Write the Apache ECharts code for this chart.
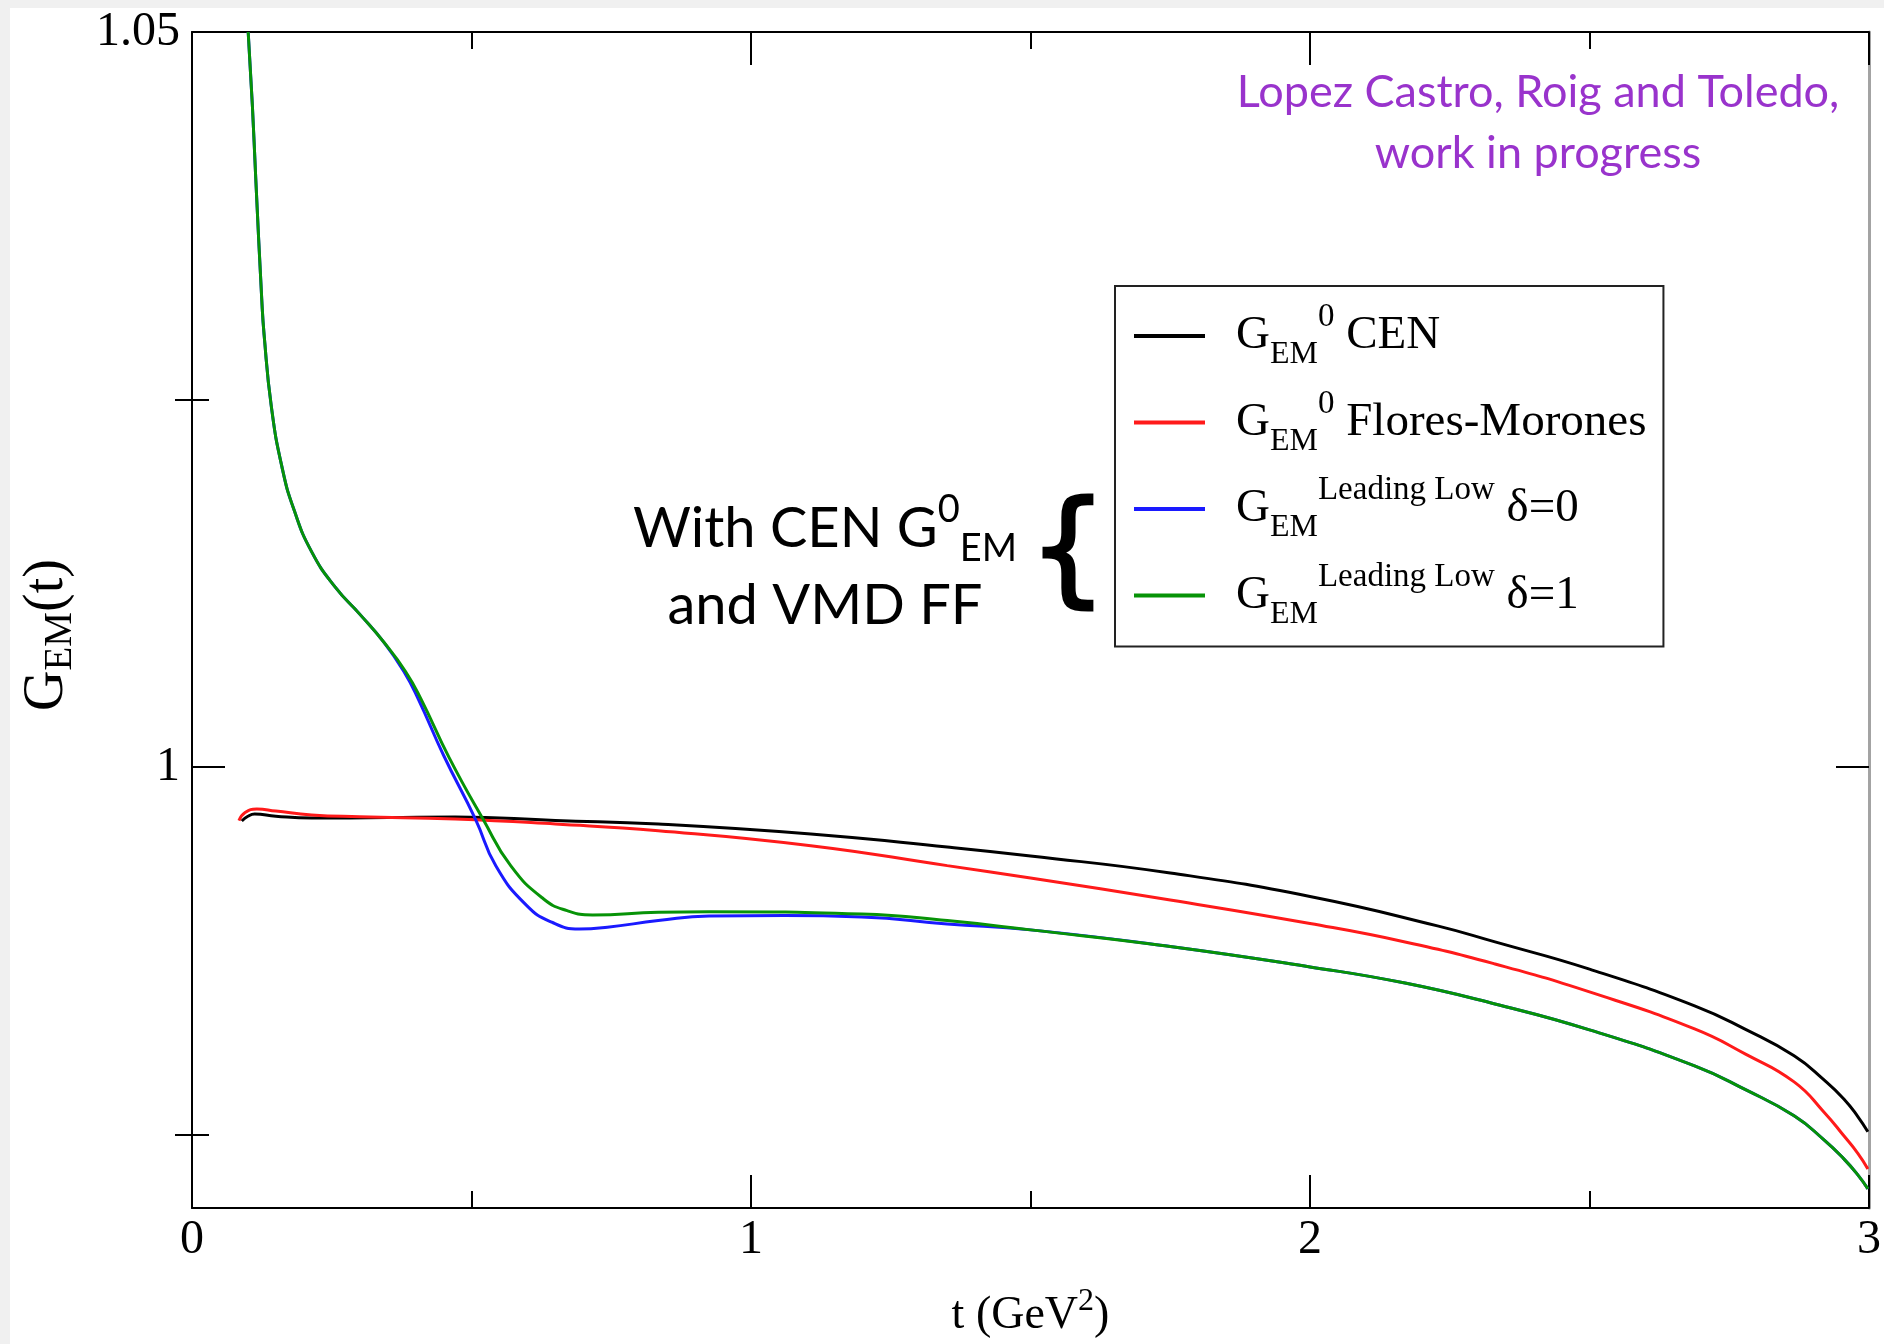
<!DOCTYPE html>
<html><head><meta charset="utf-8">
<script src="https://cdn.jsdelivr.net/npm/echarts@6/dist/echarts.min.js"></script>
<style>
html,body{margin:0;padding:0;background:#f0f0f0;width:1884px;height:1344px;overflow:hidden;}
#chart{position:absolute;left:10px;top:8px;width:1874px;height:1336px;background:#fff;}
</style></head><body><div id="chart"></div>
<script>
// ---- data (t in GeV^2, G_EM(t)) ----
const seriesNames = ['CEN', 'FM', 'LL0', 'LL1'];
const tBlack = [0.089,0.100,0.112,0.150,0.214,0.350,0.471,0.650,0.834,1.107,1.351,1.500,1.750,2.000,2.228,2.331,2.500,2.688,2.780,2.866,2.920,2.955,2.980,2.998];
const gBlack = [0.99633,0.99665,0.99680,0.99665,0.99653,0.99656,0.99660,0.99636,0.99612,0.99544,0.99456,0.99395,0.99279,0.99119,0.98919,0.98810,0.98625,0.98375,0.98213,0.98035,0.97870,0.97742,0.97622,0.97518];
const tRed = [0.084,0.095,0.116,0.150,0.214,0.300,0.471,0.650,0.834,1.107,1.351,1.500,1.750,2.000,2.170,2.331,2.500,2.688,2.780,2.866,2.920,2.955,2.980,2.998];
const gRed = [0.99635,0.99690,0.99714,0.99700,0.99674,0.99662,0.99646,0.99612,0.99567,0.99465,0.99329,0.99245,0.99095,0.98935,0.98810,0.98660,0.98470,0.98218,0.98045,0.97858,0.97650,0.97491,0.97372,0.97266];
const tBlue = [0.1005,0.1080,0.1141,0.1248,0.1290,0.1420,0.1610,0.1825,0.2146,0.2570,0.3000,0.3430,0.3790,0.4050,0.4500,0.5070,0.5437,0.5980,0.6435,0.6930,0.7430,0.8340,0.9250,1.0600,1.1980,1.3510,1.5000,1.7500,2.0000,2.1700,2.3310,2.5000,2.6880,2.7800,2.8660,2.9200,2.9550,2.9800,2.9980];
const gBlue = [1.0500,1.0450,1.0400,1.0318,1.0294,1.0245,1.0204,1.0175,1.0146,1.0122,1.0104,1.0085,1.0065,1.0046,1.0008,0.99646,0.99327,0.99060,0.98944,0.98898,0.98910,0.98955,0.98987,0.98989,0.98980,0.98932,0.98892,0.98779,0.98640,0.98530,0.98388,0.98212,0.97967,0.97803,0.97627,0.97462,0.97334,0.97225,0.97130];
const tGreen = [0.1005,0.1080,0.1141,0.1248,0.1290,0.1420,0.1610,0.1825,0.2146,0.2570,0.3000,0.3430,0.3820,0.4100,0.4600,0.5205,0.5704,0.6290,0.6710,0.7166,0.8340,0.9250,1.1980,1.3510,1.5000,1.7500,2.0000,2.1700,2.3310,2.5000,2.6880,2.7800,2.8660,2.9200,2.9550,2.9800,2.9980];
const gGreen = [1.0500,1.0450,1.0400,1.0318,1.0294,1.0245,1.0204,1.0175,1.0146,1.0122,1.0104,1.0085,1.0065,1.0046,1.00064,0.99646,0.99327,0.99102,0.99023,0.98994,0.99012,0.99016,0.99000,0.98955,0.98892,0.98779,0.98640,0.98530,0.98388,0.98212,0.97967,0.97803,0.97627,0.97462,0.97334,0.97225,0.97130];
const xMin = 0, xMax = 3, xInterval = 1;
const yMin = 0.97, yMax = 1.05;
const yMajorTicks = [1, 1.05];
const yMinorTicks = [0.975, 1.025];
const yRightMajor = [1];
const legendLabels = {
  CEN: '{g|G}{sub|EM}{sup|0}{m| CEN}',
  FM: '{g|G}{sub|EM}{sup|0}{m| Flores-Morones}',
  LL0: '{g|G}{sub|EM}{sup|Leading Low}{m| δ=0}',
  LL1: '{g|G}{sub|EM}{sup|Leading Low}{m| δ=1}'
};
const colors = ['#000000', '#ff1a1a', '#1a1aff', '#079307'];

function pairs(t, g) { return t.map((v, i) => [v, g[i]]); }

const serif = 'Liberation Serif';
const chart = echarts.init(document.getElementById('chart'), null, {renderer: 'canvas'});
const black2 = {color: '#000', width: 2};

function xAx(pos, showLabel) {
  const a = {
    type: 'value', position: pos, min: xMin, max: xMax, interval: xInterval,
    axisLine: {show: true, onZero: false, lineStyle: black2},
    axisTick: {show: true, inside: true, length: 33, lineStyle: black2},
    minorTick: {show: true, splitNumber: 2, length: 17, lineStyle: black2},
    axisLabel: {show: showLabel, margin: 8, fontSize: 48, fontFamily: serif, color: '#000'},
    splitLine: {show: false}, minorSplitLine: {show: false}
  };
  if (showLabel) {
    a.name = '{m|t (GeV}{s|2}{m|)}';
    a.nameLocation = 'middle';
    a.nameGap = 78;
    a.nameTextStyle = {
      fontFamily: serif, fontSize: 46, color: '#000',
      rich: {
        m: {fontFamily: serif, fontSize: 46, color: '#000', lineHeight: 60},
        s: {fontFamily: serif, fontSize: 32, color: '#000', lineHeight: 34, verticalAlign: 'top'}
      }
    };
  }
  return a;
}
function yAx(pos, ticks, len, line, labels) {
  return {
    type: 'value', position: pos, offset: 0, min: yMin, max: yMax,
    axisLine: line ? {show: true, onZero: false, lineStyle: line} : {show: false},
    axisTick: {show: true, inside: true, length: len, customValues: ticks, lineStyle: black2},
    axisLabel: labels ? {show: true, customValues: labels, margin: 12, fontSize: 48, fontFamily: serif, color: '#000'} : {show: false},
    splitLine: {show: false}
  };
}
const yLeft = yAx('left', yMajorTicks, 33, black2, yMajorTicks);
yLeft.name = '{g|G}{s|EM}{g|(t)}';
yLeft.nameLocation = 'middle';
yLeft.nameRotate = 90;
yLeft.nameGap = 112;
yLeft.nameTextStyle = {
  fontFamily: serif, fontSize: 56, color: '#000', padding: [0, 30, 0, 0],
  rich: {
    g: {fontFamily: serif, fontSize: 56, color: '#000', lineHeight: 66},
    s: {fontFamily: serif, fontSize: 39, color: '#000', lineHeight: 30, verticalAlign: 'bottom'}
  }
};

const legendRich = {
  g: {fontFamily: serif, fontSize: 47, color: '#000', lineHeight: 70, padding: [0, 0, 0, 26]},
  m: {fontFamily: serif, fontSize: 47, color: '#000', lineHeight: 70},
  sub: {fontFamily: serif, fontSize: 32, color: '#000', lineHeight: 24, verticalAlign: 'bottom'},
  sup: {fontFamily: serif, fontSize: 33, color: '#000', lineHeight: 35, verticalAlign: 'top'}
};

const dataSets = [pairs(tBlack, gBlack), pairs(tRed, gRed), pairs(tBlue, gBlue), pairs(tGreen, gGreen)];
const series = seriesNames.map((n, i) => ({
  name: n, type: 'line', xAxisIndex: 0, yAxisIndex: 0,
  data: dataSets[i], showSymbol: false, symbol: 'none',
  smooth: 0.5, clip: true,
  color: colors[i], itemStyle: {color: colors[i]},
  lineStyle: {color: colors[i], width: 3},
  z: 2 + i
}));

chart.setOption({
  animation: false,
  backgroundColor: '#ffffff',
  grid: {left: 182, top: 24, width: 1682, height: 1176, containLabel: false},
  xAxis: [xAx('bottom', true), xAx('top', false)],
  yAxis: [
    yLeft,
    yAx('left', yMinorTicks, 17, null, null),
    yAx('right', yRightMajor, 33, {color: '#a3a3a3', width: 3}, null),
    yAx('right', yMinorTicks, 17, null, null)
  ],
  legend: {
    orient: 'vertical', left: 1105, top: 278,
    padding: [15, 17, 16, 19], itemGap: 16.5,
    itemWidth: 71, itemHeight: 4, icon: 'rect', selectedMode: false,
    borderColor: '#222', borderWidth: 2, backgroundColor: '#fff',
    data: seriesNames,
    formatter: (name) => legendLabels[name],
    textStyle: {fontFamily: serif, fontSize: 47, color: '#000', rich: legendRich}
  },
  graphic: [
    {
      type: 'text', x: 1528, y: 114.5, z: 100,
      style: {
        text: 'Lopez Castro, Roig and Toledo,\nwork in progress',
        fill: '#9933cc', fontFamily: 'Lato', fontSize: 45, lineHeight: 61,
        align: 'center', verticalAlign: 'middle'
      }
    },
    {
      type: 'text', x: 815, y: 559.5, z: 100,
      style: {
        text: '{t|With CEN G}{sp|0}{sb|EM}\n{t|and VMD FF}',
        fill: '#000', fontFamily: 'Lato', fontSize: 56,
        align: 'center', verticalAlign: 'middle',
        rich: {
          t: {fontFamily: 'Lato', fontSize: 56, lineHeight: 77, fill: '#000'},
          sp: {fontFamily: 'Lato', fontSize: 38, lineHeight: 63, verticalAlign: 'top', fill: '#000'},
          sb: {fontFamily: 'Lato', fontSize: 38, lineHeight: 50, verticalAlign: 'bottom', fill: '#000'}
        }
      }
    },
    {
      type: 'text', x: 1058, y: 550, z: 100,
      style: {
        text: '{', fill: '#000', stroke: '#000', lineWidth: 3,
        fontFamily: 'DejaVu Sans', fontWeight: 'normal', fontSize: 124,
        align: 'center', verticalAlign: 'middle'
      }
    }
  ],
  series: series
});
</script></body></html>
